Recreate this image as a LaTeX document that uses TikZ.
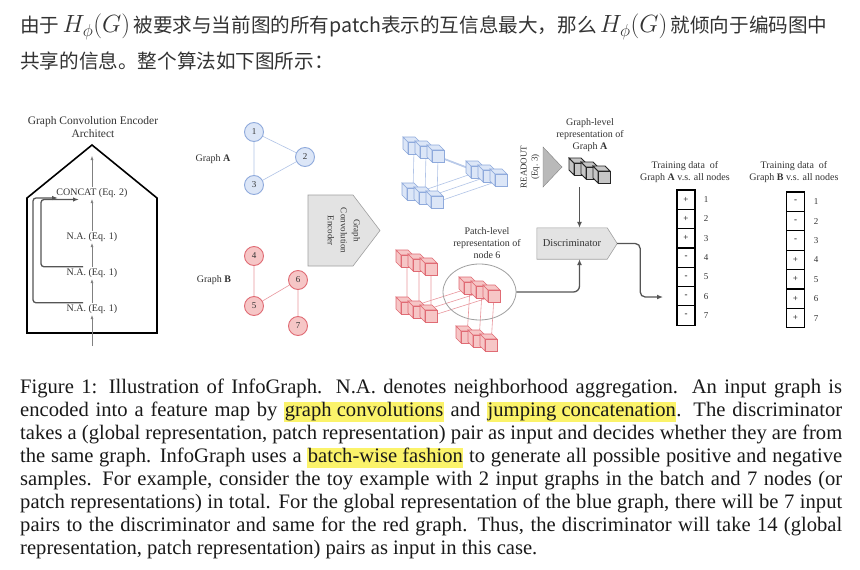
\documentclass[tikz,border=0pt]{standalone}
\usepackage{fontspec}
\setmainfont{Liberation Serif}
\newfontfamily\cjkfont{Noto Sans CJK SC}
\usetikzlibrary{arrows.meta,shapes.geometric,calc}
\pgfdeclarelayer{background}
\pgfsetlayers{background,main}

\definecolor{bluefill}{HTML}{DCE6F7}
\definecolor{blueline}{HTML}{8FAADC}
\definecolor{redfill}{HTML}{F6C6C6}
\definecolor{redline}{HTML}{E06B74}
\definecolor{hlyellow}{HTML}{FBF36A}
\definecolor{txtgray}{HTML}{333333}
\definecolor{linkgray}{HTML}{555555}

\tikzset{
  lbl/.style={font=\fontsize{10}{12}\selectfont, align=center, text=txtgray},
  gnodeA/.style={circle, draw=blueline, fill=bluefill, line width=0.9pt, minimum size=19pt, inner sep=0pt, font=\fontsize{9}{10}\selectfont, text=txtgray},
  gnodeB/.style={circle, draw=redline, fill=redfill, line width=0.9pt, minimum size=19pt, inner sep=0pt, font=\fontsize{9}{10}\selectfont, text=txtgray},
  edgeA/.style={blueline!70, line width=0.6pt},
  edgeB/.style={redline!70, line width=0.6pt},
  bluecube/.style={fill=bluefill, draw=blueline, line width=0.6pt},
  redcube/.style={fill=redfill, draw=redline, line width=0.6pt},
  darkcube/.style={fill=gray!45, draw=black!85, line width=0.8pt},
  flow/.style={gray, line width=0.5pt, -{Latex[length=4pt,width=3pt]}},
  skip/.style={linkgray, line width=1.3pt, rounded corners=3pt, -{Latex[length=6pt,width=4.5pt]}},
  conn/.style={linkgray, line width=1.3pt, rounded corners=6pt, -{Latex[length=6pt,width=5pt]}},
  shade/.style={fill=gray!22, draw=gray!75, line width=0.6pt},
  cell/.style={draw, line width=1.2pt, minimum width=18pt, minimum height=19.3pt, inner sep=0pt, font=\fontsize{9}{10}\selectfont},
  idx/.style={font=\fontsize{9}{10}\selectfont, text=txtgray},
}

% a row of three cubes; #1 name, #2 #3 top left, #4 style
\newcommand{\cuberow}[4]{%
  \begin{scope}[shift={(#2,#3)}]
    \foreach \k in {0,1,2}{
      \coordinate (#1-\k) at ({11+12*\k},{11+4*\k});
      \filldraw[#4] ({5+12*\k},{5+4*\k}) -- ++(-5,-5) -- ++(0,12) -- ++(5,5) -- cycle;
      \filldraw[#4] ({5+12*\k},{5+4*\k}) -- ++(-5,-5) -- ++(12,0) -- ++(5,5) -- cycle;
      \filldraw[#4] ({5+12*\k},{5+4*\k}) rectangle ++(12,12);
    }
  \end{scope}}

\newcommand{\hlt}[1]{{\setlength{\fboxsep}{0.5pt}\colorbox{hlyellow}{\rule[-4.5pt]{0pt}{19pt}#1}}}
\newcommand{\Hphi}{{\fontsize{26.5}{28}\selectfont$H_\phi(G)$}}

\begin{document}
\begin{tikzpicture}[x=1pt,y=-1pt]
\begin{pgfonlayer}{background}
  \fill[white] (0,0) rectangle (860,570);
\end{pgfonlayer}

% intro text
\node[anchor=west, inner sep=0pt, text=txtgray, font=\fontsize{19.6}{22}\selectfont] (intro1) at (20,27)
  {\cjkfont 由于\,\Hphi\,被要求与当前图的所有patch表示的互信息最大，那么\,\Hphi\,就倾向于编码图中};
\node[anchor=west, inner sep=0pt, text=txtgray, font=\fontsize{19.6}{22}\selectfont] (intro2) at (20,61)
  {\cjkfont 共享的信息。整个算法如下图所示：};

% encoder architecture
\draw[line width=1.6pt] (27,333) -- (27,198) -- (92,145) -- (157,198) -- (157,333) -- cycle;
\node[lbl, font=\fontsize{11.5}{13}\selectfont] (archtitle) at (93,127) {Graph Convolution Encoder\\Architect};
\node[lbl, inner sep=1.5pt] (concat) at (92,193) {CONCAT (Eq. 2)};
\node[lbl, inner sep=1.5pt] (na1) at (92,237) {N.A. (Eq. 1)};
\node[lbl, inner sep=1.5pt] (na2) at (92,273) {N.A. (Eq. 1)};
\node[lbl, inner sep=1.5pt] (na3) at (92,309) {N.A. (Eq. 1)};
\coordinate (archin) at (92,346);
\coordinate (archout) at (92,156);
\draw[flow] (archin) -- (na3);
\draw[flow] (na3) -- (na2);
\draw[flow] (na2) -- (na1);
\draw[flow] (na1) -- (concat);
\draw[flow] (concat) -- (archout);
\coordinate (skipin1) at (79,199.5);
\coordinate (skipin2) at (58,198);
\draw[skip] ([xshift=-9pt]na2.north) -- ++(-42,0) |- (skipin1);
\draw[skip] ([xshift=-9pt]na3.north) -- ++(-50,0) |- (skipin2);

% input graphs
\node[lbl] (labA) at (213,159) {Graph \textbf{A}};
\node[lbl] (labB) at (214,280) {Graph \textbf{B}};
\node[gnodeA] (n1) at (254,132) {1};
\node[gnodeA] (n2) at (305,157) {2};
\node[gnodeA] (n3) at (254,185) {3};
\node[gnodeB] (n4) at (254,256) {4};
\node[gnodeB] (n5) at (254,306) {5};
\node[gnodeB] (n6) at (298,280) {6};
\node[gnodeB] (n7) at (298,326) {7};
\draw[edgeA] (n1) -- (n2) (n1) -- (n3) (n3) -- (n2);
\draw[edgeB] (n4) -- (n5) (n5) -- (n6) (n6) -- (n7);

% encoder block
\filldraw[shade] (308,195) -- (353,195) -- (380,230.5) -- (353,266) -- (308,266) -- cycle;
\node[lbl, rotate=-90, font=\fontsize{9}{13}\selectfont] (enclbl) at (344,230.5) {Graph\\Convolution\\Encoder};

% feature maps
\cuberow{a1}{403}{137}{bluecube}
\cuberow{a2}{466}{161}{bluecube}
\cuberow{a3}{402}{183}{bluecube}
\cuberow{b4}{396}{250}{redcube}
\cuberow{b5}{396}{297}{redcube}
\cuberow{b6}{459}{277}{redcube}
\cuberow{b7}{456}{326}{redcube}
\begin{pgfonlayer}{background}
  \foreach \k in {0,1,2}{
    \draw[edgeA] (a1-\k) -- (a3-\k) (a1-\k) -- (a2-\k) (a3-\k) -- (a2-\k);
    \draw[edgeB] (b4-\k) -- (b5-\k) (b5-\k) -- (b6-\k) (b6-\k) -- (b7-\k);
  }
\end{pgfonlayer}
\node[draw=gray!75, line width=0.8pt, ellipse, minimum width=73pt, minimum height=56pt] (patch) at (479.5,292) {};
\node[lbl] (plabel) at (487,243) {Patch-level\\representation of\\node 6};

% readout
\filldraw[fill=gray!55, draw=gray] (543,147) -- (562,167) -- (543,187) -- cycle;
\node[lbl, rotate=90, font=\fontsize{9}{11}\selectfont] (readout) at (530,167) {READOUT\\(Eq. 3)};
\node[lbl] (glabel) at (590,135) {Graph-level\\representation of\\Graph \textbf{A}};
\cuberow{g}{569}{158}{darkcube}

% discriminator
\node[lbl, font=\fontsize{10.5}{12}\selectfont, minimum width=70pt, minimum height=31pt, inner sep=0pt] (disc) at (572,243.5) {Discriminator};
\begin{pgfonlayer}{background}
  \filldraw[shade] (disc.north west) -- (disc.north east) -- ([xshift=10pt]disc.east) -- (disc.south east) -- (disc.south west) -- cycle;
\end{pgfonlayer}
\coordinate (gout) at (579.5,187);
\draw[conn] (gout) -- (gout |- disc.north);
\draw[conn] (patch.east) -| ([xshift=7.5pt]disc.south);
\coordinate (outA) at (663,297);
\draw[conn, rounded corners=5pt] ([xshift=10pt]disc.east) -- ++(23,0) |- (outA);

% training data
\node[lbl] (trA) at (685,172) {Training data\ \ of\\Graph \textbf{A} v.s. all nodes};
\node[lbl] (trB) at (794,172) {Training data\ \ of\\Graph \textbf{B} v.s. all nodes};
\foreach \s [count=\i] in {+,+,+,-,-,-,-}{
  \node[cell] (ta\i) at (686,{190+19.3*(\i-0.5)}) {\s};
  \node[idx] (ia\i) at (706,{190+19.3*(\i-0.5)}) {\i};
}
\foreach \s [count=\i] in {-,-,-,+,+,+,+}{
  \node[cell] (tb\i) at (795.5,{192+19.4*(\i-0.5)}) {\s};
  \node[idx] (ib\i) at (816,{192+19.4*(\i-0.5)}) {\i};
}

% caption
\node[anchor=north west, inner sep=0pt, text width=822pt, align=justify, text=black!90,
      font=\fontsize{20.6}{23}\selectfont] (caption) at (20,379) {%
Figure 1: Illustration of InfoGraph. N.A. denotes neighborhood aggregation. An input graph is\linebreak
encoded into a feature map by \hlt{graph convolutions} and \hlt{jumping concatenation}. The discriminator\linebreak
takes a (global representation, patch representation) pair as input and decides whether they are from\linebreak
the same graph. InfoGraph uses a \hlt{batch-wise fashion} to generate all possible positive and negative\linebreak
samples. For example, consider the toy example with 2 input graphs in the batch and 7 nodes (or\linebreak
patch representations) in total. For the global representation of the blue graph, there will be 7 input\linebreak
pairs to the discriminator and same for the red graph. Thus, the discriminator will take 14 (global\linebreak
representation, patch representation) pairs as input in this case.};
\end{tikzpicture}
\end{document}
